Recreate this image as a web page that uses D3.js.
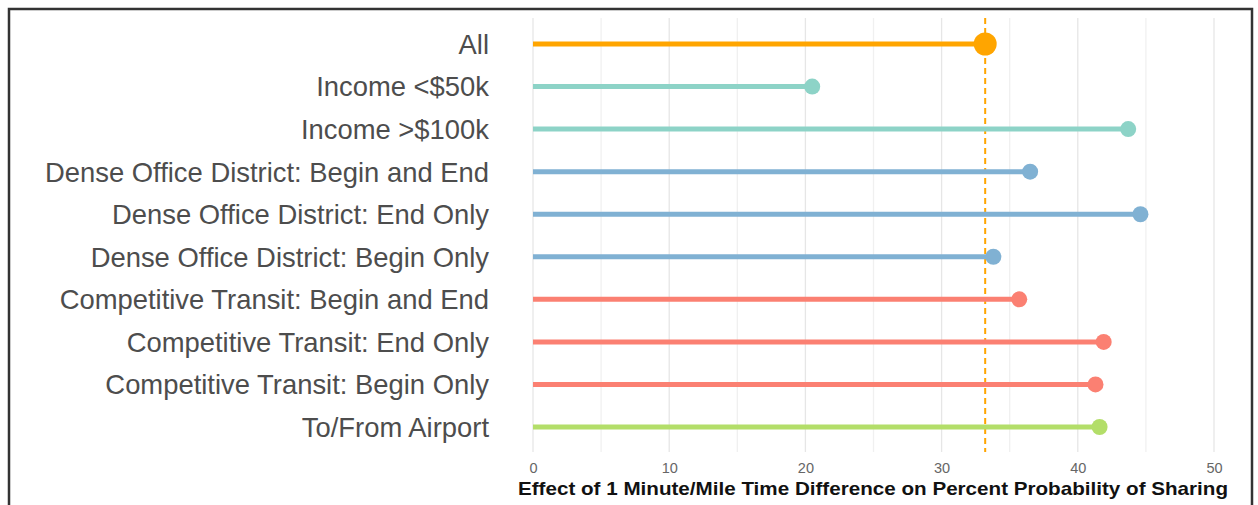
<!DOCTYPE html>
<html>
<head>
<meta charset="utf-8">
<script src="https://cdn.jsdelivr.net/npm/d3@7"></script>
<style>
  body { margin: 0; background: #fff; }
  svg { display: block; }
</style>
</head>
<body>
<svg id="chart" width="1258" height="505"></svg>
<script>
// data
const categories = [
  'All',
  'Income <$50k',
  'Income >$100k',
  'Dense Office District: Begin and End',
  'Dense Office District: End Only',
  'Dense Office District: Begin Only',
  'Competitive Transit: Begin and End',
  'Competitive Transit: End Only',
  'Competitive Transit: Begin Only',
  'To/From Airport'
];
const effects = [33.2, 20.5, 43.7, 36.5, 44.6, 33.8, 35.7, 41.9, 41.3, 41.6];
const groups = ['all', 'income', 'income', 'office', 'office', 'office', 'transit', 'transit', 'transit', 'airport'];
const groupColors = { all: '#ffa500', income: '#8dd3c7', office: '#80b1d3', transit: '#fb8072', airport: '#b3de69' };
const xTicks = [0, 10, 20, 30, 40, 50];
const refValue = 33.2;
const xTitle = 'Effect of 1 Minute/Mile Time Difference on Percent Probability of Sharing';

const svg = d3.select('#chart');

// outer frame
svg.append('rect')
  .attr('x', 9).attr('y', 9)
  .attr('width', 1243).attr('height', 510)
  .attr('fill', 'none')
  .attr('stroke', '#333')
  .attr('stroke-width', 2.5);

const plot = { left: 533, right: 1214, top: 18, bottom: 452 };

const x = d3.scaleLinear().domain([0, 50]).range([plot.left, plot.right]);
const y = d3.scalePoint()
  .domain(categories)
  .range([44, 427]);

// grid lines (major + minor)
const gridVals = d3.range(0, 51, 5);
svg.append('g')
  .selectAll('line')
  .data(gridVals)
  .join('line')
  .attr('x1', d => x(d)).attr('x2', d => x(d))
  .attr('y1', plot.top).attr('y2', plot.bottom)
  .attr('stroke', d => d % 10 === 0 ? '#e6e6e6' : '#f0f0f0')
  .attr('stroke-width', 1.3);

// reference line
svg.append('line')
  .attr('x1', x(refValue)).attr('x2', x(refValue))
  .attr('y1', plot.top).attr('y2', plot.bottom)
  .attr('stroke', '#ffa500')
  .attr('stroke-width', 2)
  .attr('stroke-dasharray', '6,4');

// lollipop stems
const rows = categories.map((c, i) => ({ cat: c, val: effects[i], grp: groups[i] }));

svg.append('g')
  .selectAll('line')
  .data(rows)
  .join('line')
  .attr('x1', x(0))
  .attr('x2', d => x(d.val))
  .attr('y1', d => y(d.cat))
  .attr('y2', d => y(d.cat))
  .attr('stroke', d => groupColors[d.grp])
  .attr('stroke-width', 5);

svg.append('g')
  .selectAll('circle')
  .data(rows)
  .join('circle')
  .attr('cx', d => x(d.val))
  .attr('cy', d => y(d.cat))
  .attr('r', d => d.grp === 'all' ? 11.5 : 8)
  .attr('fill', d => groupColors[d.grp]);

// category labels
svg.append('g')
  .selectAll('text')
  .data(categories)
  .join('text')
  .attr('x', 489)
  .attr('y', d => y(d))
  .attr('dy', '0.36em')
  .attr('text-anchor', 'end')
  .style('font-family', 'Liberation Sans, Arial, sans-serif')
  .style('font-size', '27.4px')
  .style('fill', '#4d4d4d')
  .text(d => d);

// x axis ticks
const xAxis = svg.append('g')
  .attr('transform', `translate(0,${plot.bottom})`)
  .call(d3.axisBottom(x).tickValues(xTicks).tickSize(0).tickPadding(11));
xAxis.select('.domain').remove();
xAxis.selectAll('text')
  .style('font-family', 'Liberation Sans, Arial, sans-serif')
  .style('font-size', '14.5px')
  .style('fill', '#666');

// axis title
svg.append('text')
  .attr('x', 873)
  .attr('y', 495)
  .attr('text-anchor', 'middle')
  .attr('textLength', 710)
  .attr('lengthAdjust', 'spacingAndGlyphs')
  .style('font-family', 'Liberation Sans, Arial, sans-serif')
  .style('font-weight', 'bold')
  .style('font-size', '18.5px')
  .style('fill', '#111')
  .text(xTitle);
</script>
</body>
</html>
